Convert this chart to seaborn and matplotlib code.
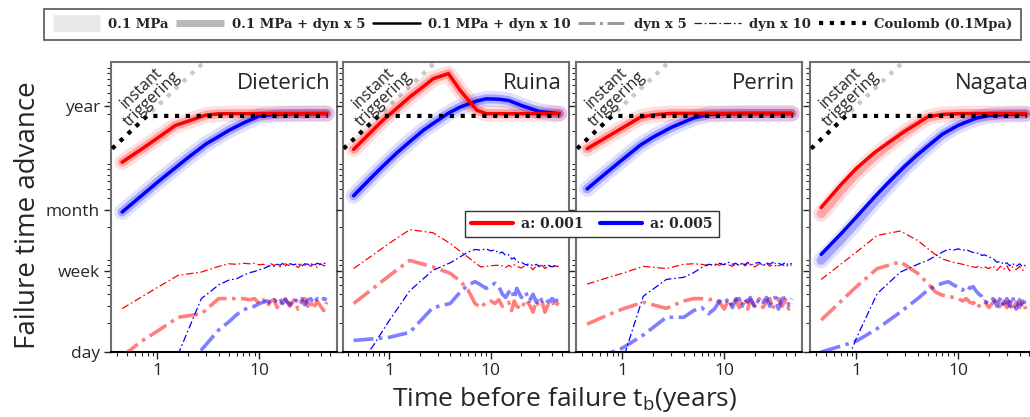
import matplotlib
matplotlib.use("Agg")
import matplotlib.pyplot as plt
import matplotlib.ticker as mticker
from matplotlib.lines import Line2D
import seaborn as sns

# ---- data (x: years before failure, y: failure time advance in days) ----
models = ["Dieterich", "Ruina", "Perrin", "Nagata"]

# smooth curves (0.1 MPa + dyn), a = 0.001 (red) and a = 0.005 (blue)
xs = [0.45, 0.7, 1, 1.5, 2, 3, 4, 5, 7, 10, 15, 20, 30, 46]
dieterich_red = [95, 130, 169, 229, 254, 294, 303, 304, 304, 304, 305, 305, 305, 305]
dieterich_blue = [28.7, 42.6, 58.6, 83, 106, 147, 176, 203, 243, 288, 300, 303, 304, 305]
perrin_red = [131, 173, 216, 279, 295, 306, 306, 306, 306, 306, 306, 306, 306, 306]
perrin_blue = [50, 74, 101, 143, 173, 218, 248, 274, 298, 303, 305, 305, 305, 305]
nagata_red = [32, 55, 82, 119, 148, 200, 242, 281, 299, 304, 305, 305, 305, 305]
nagata_blue = [10.4, 16.9, 25.5, 41, 56.5, 86.6, 114, 139, 186, 230, 273, 291, 298, 301]
nagata_red_band = [27.5, 48, 73, 110, 140, 195, 238, 278, 298, 304, 305, 305, 305, 305]
nagata_blue_band = [9.0, 14.8, 22.5, 37, 52, 82, 110, 136, 184, 229, 272, 290, 298, 301]

xs_ruina = [0.45, 0.7, 0.87, 1.2, 1.6, 2.2, 2.73, 3.84, 5.0, 7.3, 9, 12, 15, 20, 30, 47]
ruina_red = [129, 206, 259, 347, 453, 588, 704, 795, 532, 330, 304, 304, 304, 304, 304, 304]
ruina_blue = [42.5, 68.5, 86, 119, 155, 206, 241, 308, 356, 412, 434, 430, 417, 370, 320, 304]

# dynamic-only curves (dyn x 5 thick, dyn x 10 thin)
xd = [0.45, 0.7, 1, 1.6, 2.7, 4, 5, 6, 7, 8, 9, 10, 11, 12, 13, 14, 15, 16, 17, 18,
      20, 22, 24, 26, 28, 30, 32, 34, 37, 40, 43, 46]

dieterich_red10 = [2.83, 3.75, 4.7, 6.3, 6.8, 7.8, 8.3, 8.2, 8.4, 8.3, 8.4, 8.1, 8.2, 7.8, 8.3, 8.0,
                   8.2, 7.7, 8.1, 8.3, 7.9, 8.2, 7.6, 8.2, 8.0, 8.3, 7.8, 8.2, 7.6, 8.3, 7.9, 8.1]
dieterich_blue10 = [0.3, 0.4, 0.55, 0.95, 3.6, 5.0, 5.6, 5.8, 6.3, 6.7, 6.9, 7.2, 7.4, 7.7, 8.0, 7.8,
                    8.2, 8.0, 8.4, 7.9, 8.3, 8.1, 8.4, 7.8, 8.3, 8.2, 8.4, 7.9, 8.4, 8.2, 8.4, 8.3]
dieterich_red5 = [0.9, 1.3, 1.65, 2.3, 2.5, 3.6, 3.6, 3.6, 3.6, 3.5, 3.6, 3.2, 3.5, 3.0, 3.4, 3.5,
                  2.9, 3.4, 3.1, 3.6, 3.0, 3.5, 2.8, 3.4, 3.6, 3.0, 3.5, 2.8, 3.4, 3.0, 2.7, 3.3]
dieterich_blue5 = [0.2, 0.3, 0.4, 0.6, 1.05, 1.7, 2.05, 2.45, 2.75, 2.9, 3.0, 3.2, 3.3, 3.4, 3.2, 3.5,
                   3.3, 3.6, 3.2, 3.5, 3.1, 3.6, 3.3, 3.6, 3.1, 3.5, 3.6, 3.2, 3.6, 3.4, 3.6, 3.5]

ruina_red10 = [7.4, 10.3, 13.5, 18.8, 17.5, 13.5, 11.2, 9.7, 8.5, 7.7, 7.8, 7.9, 8.0, 8.0, 7.9, 7.6,
               8.0, 7.7, 8.1, 7.8, 7.5, 8.0, 7.9, 7.2, 7.9, 7.7, 8.0, 7.4, 7.9, 7.6, 7.9, 7.7]
ruina_blue10 = [0.6, 1.16, 2.1, 4.34, 7.1, 8.5, 9.8, 11.0, 11.7, 11.5, 11.9, 11.3, 11.6, 10.6, 11.0, 10.1,
                10.3, 9.3, 9.6, 8.7, 8.6, 8.1, 8.3, 7.9, 8.2, 7.8, 8.1, 7.9, 8.0, 7.7, 8.0, 7.9]
ruina_red5 = [3.2, 4.6, 6.2, 9.0, 7.7, 6.6, 5.5, 4.4, 3.2, 2.9, 3.3, 3.4, 3.2, 3.5, 3.0, 3.1,
              3.3, 2.7, 3.4, 3.0, 2.8, 3.5, 3.1, 2.6, 3.4, 3.0, 3.3, 2.6, 3.2, 3.4, 2.9, 3.3]
ruina_blue5 = [1.32, 1.37, 1.42, 1.6, 2.9, 3.2, 4.2, 5.0, 5.4, 5.0, 4.6, 4.9, 5.2, 4.8, 4.0, 3.7,
               4.2, 4.5, 3.6, 4.6, 3.7, 4.2, 3.4, 4.0, 3.3, 3.8, 3.4, 3.6, 3.3, 3.6, 3.4, 3.5]

perrin_red10 = [5.1, 5.9, 6.6, 7.8, 7.4, 8.2, 8.3, 8.2, 7.9, 8.3, 8.0, 8.4, 8.1, 7.8, 8.3, 8.0,
                8.4, 7.9, 8.3, 8.1, 7.7, 8.3, 8.0, 8.4, 7.8, 8.2, 8.4, 7.9, 8.2, 7.7, 8.1, 8.0]
perrin_blue10 = [0.2, 0.4, 0.8, 3.8, 5.7, 6.0, 6.7, 7.6, 8.2, 8.0, 8.4, 8.1, 8.6, 8.2, 8.4, 7.9,
                 8.5, 8.1, 8.6, 8.0, 8.4, 8.6, 7.9, 8.5, 8.2, 8.6, 7.9, 8.4, 8.1, 8.6, 8.0, 8.4]
perrin_red5 = [1.95, 2.4, 2.8, 3.3, 2.85, 3.4, 3.6, 3.6, 3.5, 3.6, 3.3, 2.8, 3.5, 3.0, 3.6, 2.9,
               3.4, 3.6, 2.8, 3.5, 3.0, 3.6, 2.9, 3.4, 3.6, 2.8, 3.4, 3.6, 3.0, 3.5, 2.8, 3.2]
perrin_blue5 = [0.85, 0.95, 1.1, 1.5, 2.3, 2.3, 2.7, 2.9, 2.5, 2.8, 3.4, 3.2, 3.6, 2.9, 3.5, 3.6,
                3.0, 3.6, 3.3, 3.7, 2.9, 3.6, 3.3, 3.7, 3.0, 3.6, 3.7, 2.8, 3.6, 3.7, 3.1, 3.6]

nagata_red10 = [5.7, 8.2, 11.0, 16.4, 18.2, 14.5, 12.0, 10.3, 9.3, 8.9, 8.6, 8.4, 8.2, 8.0, 7.8, 7.7,
                7.6, 7.9, 7.5, 7.7, 7.4, 7.9, 7.1, 7.8, 7.3, 7.9, 7.0, 7.7, 7.2, 7.8, 7.1, 7.6]
nagata_blue10 = [0.25, 0.55, 1.4, 4.06, 6.8, 8.2, 9.0, 10.0, 11.0, 11.8, 11.5, 11.9, 11.4, 11.7, 11.2, 10.9,
                 10.6, 10.8, 10.1, 10.3, 9.8, 9.4, 8.6, 8.8, 8.2, 8.5, 7.9, 8.4, 7.8, 8.3, 7.7, 8.1]
nagata_red5 = [2.15, 3.35, 4.8, 7.4, 8.7, 6.6, 5.2, 4.2, 3.9, 3.8, 3.7, 3.6, 3.4, 3.6, 3.3, 3.2,
               3.4, 3.0, 3.3, 3.4, 2.9, 3.3, 3.5, 2.8, 3.4, 2.9, 3.5, 2.7, 3.3, 2.9, 3.4, 2.8]
nagata_blue5 = [1.0, 1.15, 1.3, 1.75, 2.6, 3.6, 4.4, 4.9, 5.2, 5.4, 5.0, 4.7, 4.4, 4.9, 4.6, 4.8,
                4.3, 4.0, 3.8, 3.4, 3.2, 3.6, 3.0, 3.7, 2.9, 3.6, 3.0, 3.8, 2.8, 3.5, 2.9, 3.7]

# instant triggering (advance = time before failure) and Coulomb (0.1 MPa)
x_instant = [0.3, 3.2]
y_instant = [110, 1170]
x_coulomb = [0.3, 0.79, 47]
y_coulomb = [110, 288, 288]

day_ticks = [1, 7, 30, 365]
day_labels = ["day", "week", "month", "year"]

panels = {
    "Dieterich": (xs, dieterich_red, dieterich_blue, dieterich_red, dieterich_blue,
                  dieterich_red5, dieterich_blue5, dieterich_red10, dieterich_blue10),
    "Ruina": (xs_ruina, ruina_red, ruina_blue, ruina_red, ruina_blue,
              ruina_red5, ruina_blue5, ruina_red10, ruina_blue10),
    "Perrin": (xs, perrin_red, perrin_blue, perrin_red, perrin_blue,
               perrin_red5, perrin_blue5, perrin_red10, perrin_blue10),
    "Nagata": (xs, nagata_red, nagata_blue, nagata_red_band, nagata_blue_band,
               nagata_red5, nagata_blue5, nagata_red10, nagata_blue10),
}

# ---- style ----
sns.set_style("ticks")
plt.rcParams['font.family'] = ['Open Sans', 'DejaVu Sans']
plt.rcParams['mathtext.fontset'] = 'custom'
plt.rcParams['mathtext.rm'] = 'Open Sans'

RED = "#ff0000"
BLUE = "#0000ff"
THICK_DASH = (5.5, 1.5, 1, 1.5)
THIN_DASH = (6, 2.2, 1.3, 2.2)

fig = plt.figure(figsize=(10.3, 4.17), dpi=100)
lefts = [111, 342.5, 576, 810]


def line(ax, x, y, color, lw, alpha=1.0, dashes=None, z=2):
    sns.lineplot(x=x, y=y, ax=ax, color=color, lw=lw, alpha=alpha, legend=False, zorder=z)
    ln = ax.lines[-1]
    if dashes is not None:
        ln.set_dashes(dashes)
    return ln


for i, name in enumerate(models):
    ax = fig.add_axes([lefts[i] / 1030, 1 - 352 / 417, 226 / 1030, 290 / 417])
    ax.set_xscale("log")
    ax.set_yscale("log")
    x, r, b, rb, bb, r5, b5, r10, b10 = panels[name]

    line(ax, x_instant, y_instant, "#c8c8c8", 3, dashes=(1, 1.6), z=1)

    # bands: 0.1 MPa (light) and 0.1 MPa + dyn x 5 (medium)
    line(ax, x, bb, BLUE, 11.5, alpha=0.12, z=2)
    line(ax, x, bb, BLUE, 6.5, alpha=0.25, z=2)
    line(ax, x, rb, RED, 11.5, alpha=0.12, z=2)
    line(ax, x, rb, RED, 6.5, alpha=0.25, z=2)

    line(ax, xd, r5, RED, 2.6, alpha=0.5, dashes=THICK_DASH, z=3)
    line(ax, xd, b5, BLUE, 2.6, alpha=0.5, dashes=THICK_DASH, z=3)
    line(ax, xd, r10, RED, 0.9, dashes=THIN_DASH, z=3)
    line(ax, xd, b10, BLUE, 0.9, dashes=THIN_DASH, z=3)

    line(ax, x, b, BLUE, 2.5, z=4)
    line(ax, x, r, RED, 2.5, z=4)

    line(ax, x_coulomb, y_coulomb, "black", 3, dashes=(1, 1.6), z=5)

    ax.set_xlim(0.35, 58)
    ax.set_ylim(1, 1050)
    ax.set_xlabel("")
    ax.set_ylabel("")

    ax.set_yticks(day_ticks)
    ax.yaxis.set_minor_locator(mticker.LogLocator(base=10, subs=range(2, 10), numticks=20))
    ax.yaxis.set_minor_formatter(mticker.NullFormatter())
    if i == 0:
        ax.set_yticklabels(day_labels)
    else:
        ax.set_yticklabels([])
    ax.set_xticks([1, 10])
    ax.set_xticklabels(["1", "10"])
    ax.xaxis.set_minor_locator(mticker.LogLocator(base=10, subs=range(2, 10), numticks=20))
    ax.xaxis.set_minor_formatter(mticker.NullFormatter())
    ax.tick_params(axis="both", which="major", direction="out", length=5, width=1,
                   labelsize=12.5, pad=3)
    ax.tick_params(axis="both", which="minor", direction="out", length=3, width=0.8)

    for s in ["left", "right", "top"]:
        ax.spines[s].set_color("#707070")
        ax.spines[s].set_linewidth(1.5)
    ax.spines["bottom"].set_color("black")
    ax.spines["bottom"].set_linewidth(1.5)

    ax.text(0.97, 0.925, name, transform=ax.transAxes, ha="right", va="center",
            fontsize=16)
    ax.text(0.16, 0.89, "instant\ntriggering", transform=ax.transAxes, ha="center",
            va="center", rotation=44, fontsize=11.5, linespacing=0.95,
            multialignment="center", zorder=6)

fig.text(28 / 1030, 1 - 215 / 417, "Failure time advance", rotation=90,
         ha="center", va="center", fontsize=20)
fig.text(565 / 1030, 1 - 400 / 417, r"Time before failure t$_\mathregular{b}$(years)",
         ha="center", va="center", fontsize=19)

# top legend
serif = {"family": "DejaVu Serif", "weight": "bold", "size": 9.5}
top_handles = [
    Line2D([], [], color="#e8e8e8", lw=12, solid_capstyle="butt"),
    Line2D([], [], color="#b8b8b8", lw=5, solid_capstyle="butt"),
    Line2D([], [], color="black", lw=1.8),
    Line2D([], [], color="#999999", lw=2.2, dashes=THICK_DASH),
    Line2D([], [], color="#1a1a5a", lw=0.9, dashes=THIN_DASH),
    Line2D([], [], color="black", lw=3, dashes=(1, 1.6)),
]
top_labels = ["0.1 MPa", "0.1 MPa + dyn x 5", "0.1 MPa + dyn x 10", "dyn x 5",
              "dyn x 10", "Coulomb (0.1Mpa)"]
leg = fig.legend(top_handles, top_labels, loc="upper left", ncol=6, mode="expand",
                 bbox_to_anchor=(37 / 1030, 1 - 2 / 417, 991 / 1030, 0), prop=serif,
                 handlelength=3.6, handletextpad=0.6, borderpad=0.7, fancybox=False,
                 framealpha=1, edgecolor="#555555")
leg.get_frame().set_linewidth(1.2)

# a legend
a_handles = [Line2D([], [], color=RED, lw=3), Line2D([], [], color=BLUE, lw=3)]
leg2 = fig.legend(a_handles, ["a: 0.001", "a: 0.005"], loc="upper left", ncol=2,
                  bbox_to_anchor=(458 / 1030, 1 - 204 / 417),
                  prop={"family": "DejaVu Serif", "weight": "bold", "size": 10},
                  handlelength=3.0, handletextpad=0.6, columnspacing=1.2, borderpad=0.45,
                  fancybox=False, framealpha=1, edgecolor="#333333")
leg2.get_frame().set_linewidth(1.0)
leg2.set_zorder(10)

fig.savefig("out.png", dpi=100)
